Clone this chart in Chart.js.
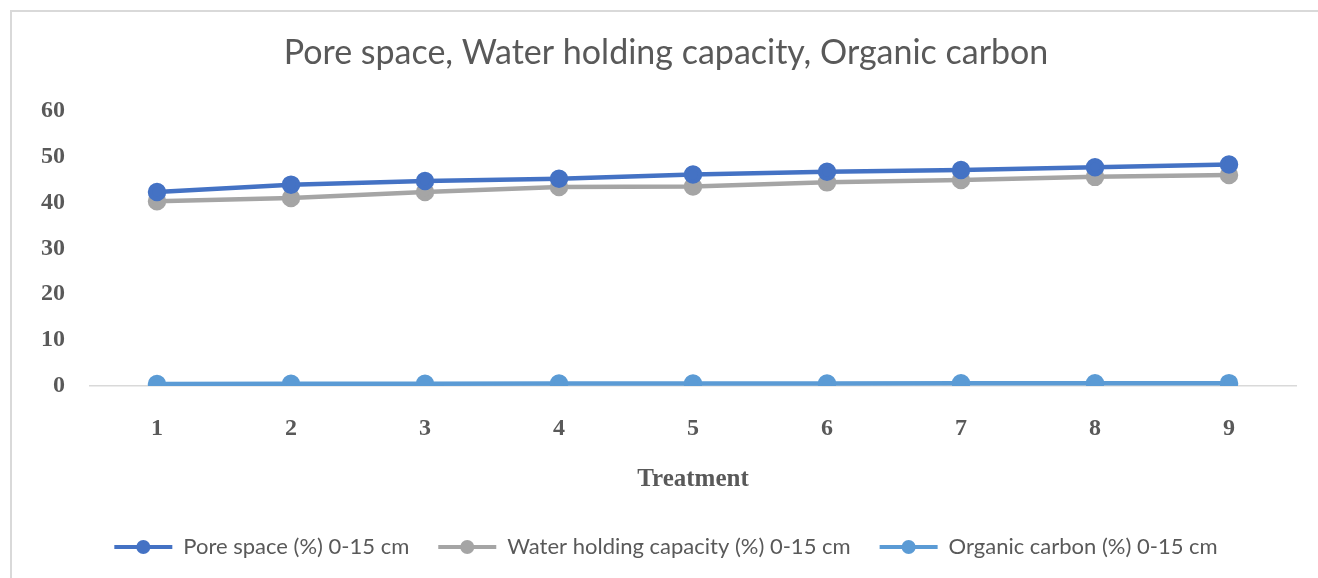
<!DOCTYPE html>
<html>
<head>
<meta charset="utf-8">
<script src="https://cdn.jsdelivr.net/npm/chart.js@4.4.1/dist/chart.umd.min.js"></script>
<style>
  body { margin: 0; background: #fff; overflow: hidden; }
  #frame { position: absolute; left: 10px; top: 10px; width: 1400px; height: 700px; border: 2px solid #d9d9d9; }
  #wrap { position: absolute; left: 0; top: 0; width: 1318px; height: 578px; }
</style>
</head>
<body>
<div id="frame"></div>
<div id="wrap"><canvas id="chart"></canvas></div>
<script>
// treatments 1..9
const treatments = ['1', '2', '3', '4', '5', '6', '7', '8', '9'];
const poreSpace = [42.3, 43.9, 44.7, 45.2, 46.1, 46.7, 47.1, 47.7, 48.3];
const waterHolding = [40.3, 41.0, 42.3, 43.4, 43.5, 44.4, 44.9, 45.6, 46.0];
const organicCarbon = [0.45, 0.48, 0.5, 0.52, 0.53, 0.55, 0.58, 0.6, 0.62];
const yTicks = [0, 10, 20, 30, 40, 50, 60];

const grey = '#595959';
const serif = "'Liberation Serif', 'Times New Roman', serif";
const sans = "Lato, 'Open Sans', sans-serif";

function series(label, data, color) {
    return {
        label: label,
        data: data,
        borderColor: color,
        backgroundColor: color,
        pointBackgroundColor: color,
        pointBorderColor: color,
        borderWidth: 4.5,
        pointRadius: 7,
        pointHoverRadius: 7,
        tension: 0
    };
}

// draw a dot in the middle of each legend line sample
const legendDots = {
    id: 'legendDots',
    afterDraw(chart) {
        const lg = chart.legend;
        if (!lg || !lg.legendHitBoxes) return;
        const ctx = chart.ctx;
        const bw = lg.options.labels.boxWidth;
        lg.legendHitBoxes.forEach((box, i) => {
            const ds = chart.data.datasets[i];
            ctx.save();
            ctx.fillStyle = ds.borderColor;
            ctx.beginPath();
            ctx.arc(box.left + bw / 2, box.top + box.height / 2, 7, 0, Math.PI * 2);
            ctx.fill();
            ctx.restore();
        });
    }
};

const ctx = document.getElementById('chart').getContext('2d');
const chart = new Chart(ctx, {
    type: 'line',
    data: {
        labels: treatments,
        datasets: [
            series('Pore space (%) 0-15 cm', poreSpace, '#4472C4'),
            series('Water holding capacity (%) 0-15 cm', waterHolding, '#A5A5A5'),
            series('Organic carbon (%) 0-15 cm', organicCarbon, '#5B9BD5')
        ]
    },
    options: {
        responsive: true,
        maintainAspectRatio: false,
        animation: false,
        layout: { padding: { left: 36, right: 22, top: 0, bottom: 10 } },
        plugins: {
            title: {
                display: true,
                text: 'Pore space, Water holding capacity, Organic carbon',
                color: grey,
                font: { family: sans, size: 34, weight: 'normal' },
                padding: { top: 33, bottom: 37 }
            },
            legend: {
                position: 'bottom',
                labels: {
                    color: grey,
                    font: { family: sans, size: 22 },
                    boxWidth: 58,
                    boxHeight: 4,
                    padding: 29,
                    generateLabels(chart) {
                        return chart.data.datasets.map((ds, i) => ({
                            text: ds.label,
                            fillStyle: ds.borderColor,
                            strokeStyle: ds.borderColor,
                            lineWidth: 0,
                            fontColor: grey,
                            datasetIndex: i,
                            hidden: false
                        }));
                    }
                }
            },
            tooltip: { enabled: false }
        },
        scales: {
            x: {
                offset: true,
                afterFit(scale) { scale.height = 121; },
                grid: { display: false, drawTicks: false },
                border: { display: true, color: '#d9d9d9', width: 1.5 },
                ticks: {
                    color: grey,
                    padding: 28,
                    font: { family: serif, size: 24, weight: 'bold' }
                },
                title: {
                    display: true,
                    text: 'Treatment',
                    color: grey,
                    font: { family: serif, size: 25, weight: 'bold' },
                    padding: { top: 10, bottom: 12 }
                }
            },
            y: {
                min: 0,
                max: 60,
                afterBuildTicks(scale) {
                    scale.ticks = yTicks.map(v => ({ value: v }));
                },
                afterFit(scale) { scale.width = 54; },
                grid: { display: false, drawTicks: false },
                border: { display: false },
                ticks: {
                    color: grey,
                    padding: 25,
                    font: { family: serif, size: 24, weight: 'bold' }
                }
            }
        }
    },
    plugins: [legendDots]
});
</script>
</body>
</html>
